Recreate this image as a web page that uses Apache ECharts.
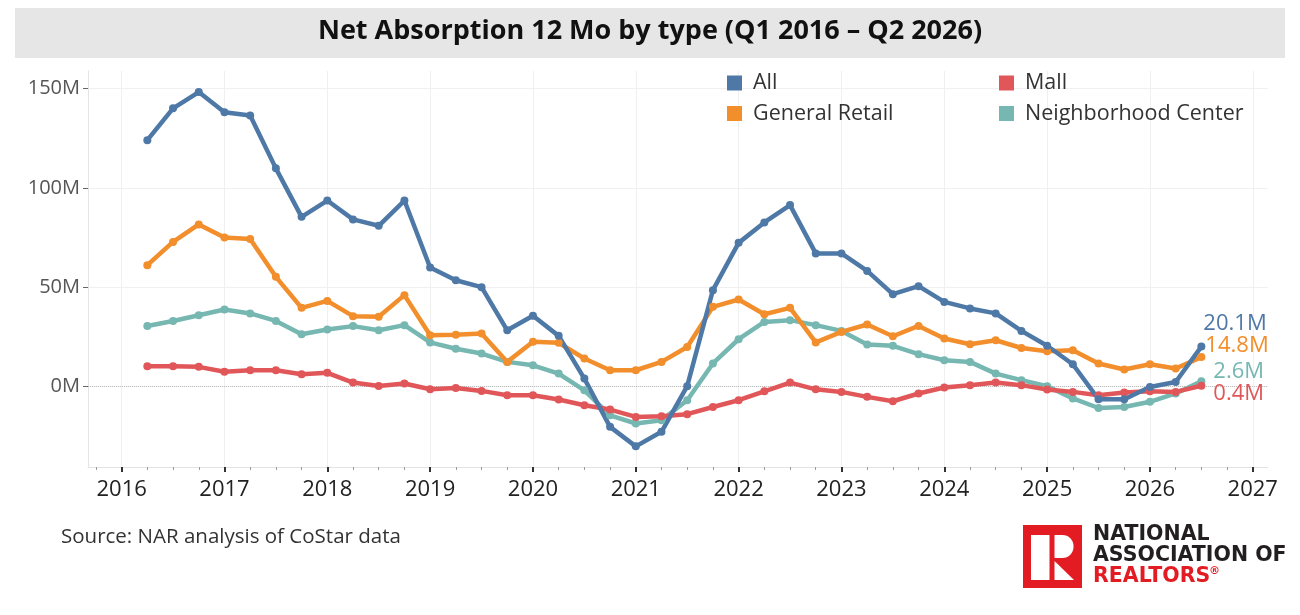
<!DOCTYPE html>
<html>
<head>
<meta charset="utf-8">
<script src="https://cdn.jsdelivr.net/npm/echarts@6/dist/echarts.min.js"></script>
<style>
html,body{margin:0;padding:0;background:#fff;}
#chart{width:1300px;height:615px;}
</style>
</head>
<body>
<div id="chart"></div>
<script>
// Quarters Q1 2016 .. Q2 2026 (plotted at quarter end)
const quarters = [
  'Q1 2016','Q2 2016','Q3 2016','Q4 2016','Q1 2017','Q2 2017','Q3 2017','Q4 2017',
  'Q1 2018','Q2 2018','Q3 2018','Q4 2018','Q1 2019','Q2 2019','Q3 2019','Q4 2019',
  'Q1 2020','Q2 2020','Q3 2020','Q4 2020','Q1 2021','Q2 2021','Q3 2021','Q4 2021',
  'Q1 2022','Q2 2022','Q3 2022','Q4 2022','Q1 2023','Q2 2023','Q3 2023','Q4 2023',
  'Q1 2024','Q2 2024','Q3 2024','Q4 2024','Q1 2025','Q2 2025','Q3 2025','Q4 2025',
  'Q1 2026','Q2 2026'
];
const allValues = [124.0, 140.0, 148.2, 138.0, 136.4, 109.8, 85.4, 93.6, 84.1, 80.9, 93.6, 59.9,
  53.5, 50.0, 28.3, 35.6, 25.5, 4.0, -20.3, -30.1, -22.8, 0.2, 48.5, 72.3, 82.6, 91.3, 67.0, 67.0,
  58.2, 46.5, 50.5, 42.6, 39.3, 36.8, 28.0, 20.5, 11.2, -6.4, -6.4, -0.2, 2.3, 20.1];
const generalRetail = [61.1, 72.8, 81.6, 75.0, 74.2, 55.2, 39.6, 43.1, 35.4, 35.1, 46.0, 25.8,
  26.0, 26.7, 12.4, 22.5, 22.0, 14.1, 8.2, 8.2, 12.4, 19.9, 40.1, 43.8, 36.4, 39.6, 22.2, 27.5,
  31.2, 25.3, 30.5, 24.2, 21.3, 23.3, 19.4, 17.8, 18.3, 11.6, 8.6, 11.2, 9.1, 14.8];
const mall = [10.2, 10.2, 9.9, 7.4, 8.2, 8.2, 6.2, 6.9, 2.0, 0.3, 1.5, -1.4,
  -0.7, -2.2, -4.4, -4.4, -6.5, -9.4, -11.6, -15.3, -15.0, -13.9, -10.3, -6.9, -2.4, 2.0, -1.4, -2.7,
  -5.2, -7.4, -3.5, -0.5, 0.7, 2.0, 0.7, -1.5, -2.7, -4.4, -3.0, -2.4, -2.7, 0.4];
const neighborhoodCenter = [30.5, 33.0, 35.9, 38.8, 36.8, 33.0, 26.3, 28.7, 30.4, 28.3, 30.9, 22.2,
  19.0, 16.6, 12.4, 10.7, 6.5, -1.9, -14.5, -18.6, -17.0, -6.9, 11.6, 23.8, 32.5, 33.4, 30.9, 28.0,
  21.1, 20.5, 16.3, 13.2, 12.4, 6.5, 3.2, 0.2, -6.0, -10.8, -10.3, -7.7, -3.5, 2.6];
const yearTicks = [2016, 2017, 2018, 2019, 2020, 2021, 2022, 2023, 2024, 2025, 2026, 2027];
const yTicks = [0, 50, 100, 150];

const seriesColors = {'All': '#4e79a7', 'General Retail': '#f28e2b', 'Mall': '#e15759', 'Neighborhood Center': '#76b7b2'};

// quarter -> decimal year at quarter end
const xs = quarters.map(q => {
  const qn = parseInt(q.charAt(1), 10);
  const yr = parseInt(q.slice(3), 10);
  return yr + qn * 0.25;
});
const quarterTicks = [];
for (let y = 2015; y <= 2027; y++) {
  for (let k = 1; k < 4; k++) quarterTicks.push(y + k * 0.25);
}

function buildData(values, color, labelOffset) {
  return values.map((v, i) => {
    const item = { value: [xs[i], v] };
    if (i === values.length - 1) {
      item.label = {
        show: true,
        position: 'right',
        distance: 0,
        offset: labelOffset,
        formatter: v.toFixed(1) + 'M',
        color: color,
        fontSize: 22,
        fontFamily: 'Open Sans'
      };
    }
    return item;
  });
}

function lineSeries(name, values, labelOffset, extra) {
  const color = seriesColors[name];
  return Object.assign({
    name: name,
    type: 'line',
    data: buildData(values, color, labelOffset),
    symbol: 'circle',
    symbolSize: 8,
    showSymbol: true,
    lineStyle: { width: 4.5, color: color },
    itemStyle: { color: color },
    emphasis: { disabled: true },
    z: 3
  }, extra || {});
}

const chart = echarts.init(document.getElementById('chart'), null, { renderer: 'canvas' });
chart.setOption({
  animation: false,
  backgroundColor: '#ffffff',
  title: {
    text: 'Net Absorption 12 Mo by type (Q1 2016 \u2013 Q2 2026)',
    left: 'center',
    top: 18,
    padding: 0,
    textStyle: { fontFamily: 'Open Sans', fontWeight: 'bold', fontSize: 27, color: '#111' }
  },
  legend: [
    {
      data: ['All', 'General Retail'],
      orient: 'vertical', left: 727, top: 72, padding: 0,
      itemWidth: 15, itemHeight: 15, itemGap: 8.5, icon: 'rect',
      selectedMode: false,
      textStyle: { fontFamily: 'Open Sans', fontSize: 21.5, color: '#333', padding: [0, 0, 0, 6] }
    },
    {
      data: ['Mall', 'Neighborhood Center'],
      orient: 'vertical', left: 999, top: 72, padding: 0,
      itemWidth: 15, itemHeight: 15, itemGap: 8.5, icon: 'rect',
      selectedMode: false,
      textStyle: { fontFamily: 'Open Sans', fontSize: 21.5, color: '#333', padding: [0, 0, 0, 6] }
    }
  ],
  grid: { left: 88, right: 32, top: 71, bottom: 148, containLabel: false },
  xAxis: [
    {
      type: 'value',
      min: 2015.673,
      max: 2027.148,
      axisLine: { show: true, onZero: false, lineStyle: { color: '#e4e4e4', width: 1 } },
      axisTick: { show: true, customValues: yearTicks, length: 5, lineStyle: { color: '#333', width: 2 } },
      axisLabel: {
        customValues: yearTicks, margin: 12,
        formatter: v => String(Math.round(v)),
        fontFamily: 'Open Sans', fontSize: 22, color: '#222'
      },
      splitLine: { show: true, lineStyle: { color: '#f0f0f0', width: 1 } }
    },
    {
      type: 'value',
      min: 2015.673,
      max: 2027.148,
      position: 'bottom',
      axisLine: { show: false, onZero: false },
      axisTick: { show: true, customValues: quarterTicks, length: 3, lineStyle: { color: '#999', width: 1 } },
      axisLabel: { show: false },
      splitLine: { show: false }
    }
  ],
  yAxis: {
    type: 'value',
    min: -40.5,
    max: 158.8,
    axisLine: { show: true, onZero: false, lineStyle: { color: '#e4e4e4', width: 1 } },
    axisTick: { show: true, customValues: yTicks, length: 5, lineStyle: { color: '#666', width: 1 } },
    axisLabel: {
      customValues: yTicks, margin: 8,
      formatter: v => Math.round(v) + 'M',
      fontFamily: 'Open Sans', fontSize: 20, color: '#555'
    },
    splitLine: { show: true, lineStyle: { color: '#f0f0f0', width: 1 } }
  },
  series: [
    lineSeries('Neighborhood Center', neighborhoodCenter, [8, -10], {
      markLine: {
        silent: true, symbol: 'none', z: 1,
        label: { show: false },
        lineStyle: { type: 'dotted', color: '#bdbdbd', width: 1 },
        data: [{ yAxis: 0 }]
      }
    }),
    lineSeries('Mall', mall, [8, 8]),
    lineSeries('General Retail', generalRetail, [0, -11]),
    lineSeries('All', allValues, [-2, -23])
  ],
  graphic: [
    { type: 'rect', z: -10, shape: { x: 15, y: 8, width: 1270, height: 50 }, style: { fill: '#e6e6e6' } },
    { type: 'text', x: 61, y: 537, style: { text: 'Source: NAR analysis of CoStar data', fontFamily: 'Open Sans', fontSize: 20.5, fill: '#333', textVerticalAlign: 'middle' } },
    // NAR logo
    { type: 'rect', shape: { x: 1023, y: 525, width: 59, height: 63 }, style: { fill: '#e31b23' } },
    { type: 'rect', shape: { x: 1031, y: 535, width: 18.5, height: 45 }, style: { fill: '#ffffff' } },
    { type: 'rect', shape: { x: 1054.5, y: 535, width: 19, height: 23, r: [0, 11, 11, 0] }, style: { fill: '#ffffff' } },
    { type: 'polygon', shape: { points: [[1054.5, 561], [1074, 580], [1054.5, 580]] }, style: { fill: '#ffffff' } },
    { type: 'text', x: 1093, y: 535, style: { text: 'NATIONAL', fontFamily: 'DejaVu Sans', fontWeight: 'bold', fontSize: 20.5, fill: '#231f20', textVerticalAlign: 'middle' } },
    { type: 'text', x: 1093, y: 556, style: { text: 'ASSOCIATION OF', fontFamily: 'DejaVu Sans', fontWeight: 'bold', fontSize: 20.5, fill: '#231f20', textVerticalAlign: 'middle' } },
    { type: 'text', x: 1093, y: 577, style: { text: 'REALTORS', fontFamily: 'DejaVu Sans', fontWeight: 'bold', fontSize: 20.5, fill: '#e31b23', textVerticalAlign: 'middle' } },
    { type: 'text', x: 1209, y: 571, style: { text: '\u00AE', fontFamily: 'DejaVu Sans', fontWeight: 'bold', fontSize: 11, fill: '#e31b23', textVerticalAlign: 'middle' } }
  ]
});
</script>
</body>
</html>
